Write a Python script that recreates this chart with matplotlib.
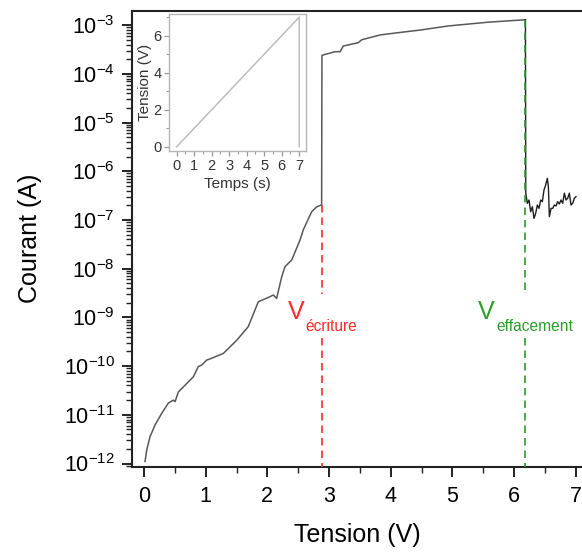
import matplotlib
matplotlib.use("Agg")
import matplotlib.pyplot as plt
from matplotlib.ticker import LogLocator, MultipleLocator, FuncFormatter, NullFormatter
import numpy as np

plt.rcParams['font.family'] = ['Liberation Sans', 'DejaVu Sans']
plt.rcParams['mathtext.fontset'] = 'custom'
plt.rcParams['mathtext.rm'] = 'Liberation Sans'
plt.rcParams['mathtext.it'] = 'Liberation Sans:italic'
plt.rcParams['mathtext.bf'] = 'Liberation Sans:bold'

# ---- data ----
tension = [0.016, 0.044, 0.097, 0.178, 0.287, 0.394, 0.475, 0.503, 0.557, 0.80,
           0.88, 0.935, 1.016, 1.098, 1.286, 1.503, 1.69, 1.853, 2.043, 2.097,
           2.15, 2.233, 2.286, 2.395, 2.53, 2.583, 2.719, 2.80, 2.88, 2.885,
           2.908, 3.097, 3.18, 3.23, 3.475, 3.53, 3.83, 4.12, 4.48, 4.93,
           5.58, 6.18, 6.185,
           6.19, 6.216, 6.243, 6.270, 6.297, 6.324, 6.351, 6.378, 6.405, 6.432,
           6.459, 6.486, 6.513, 6.540, 6.557, 6.573, 6.600, 6.627, 6.654, 6.681,
           6.708, 6.735, 6.762, 6.789, 6.816, 6.843, 6.870, 6.897, 6.924, 6.951,
           6.978, 7.005]
courant = [1.10e-12, 1.91e-12, 3.55e-12, 6.17e-12, 1.07e-11, 1.74e-11, 2.00e-11, 1.86e-11, 2.95e-11, 6.03e-11,
           9.77e-11, 1.05e-10, 1.33e-10, 1.45e-10, 1.82e-10, 3.39e-10, 6.46e-10, 2.09e-9, 2.66e-9, 2.88e-9,
           2.45e-9, 6.84e-9, 1.10e-8, 1.51e-8, 3.89e-8, 6.31e-8, 1.48e-7, 1.86e-7, 2.04e-7, 2.40e-4,
           2.45e-4, 2.85e-4, 2.85e-4, 3.72e-4, 4.37e-4, 5.01e-4, 6.3e-4, 7.0e-4, 7.94e-4, 9.62e-4,
           1.15e-3, 1.29e-3, 1.29e-3,
           3.55e-7, 2.2e-7, 2.57e-7, 1.48e-7, 1.87e-7, 1.08e-7, 1.37e-7, 2.03e-7, 1.73e-7, 2.57e-7,
           2.38e-7, 4.13e-7, 5.22e-7, 7.18e-7, 4.83e-7, 1.17e-7, 1.73e-7, 1.73e-7, 2.03e-7, 1.94e-7,
           2.38e-7, 2.13e-7, 2.57e-7, 2.2e-7, 3.55e-7, 2.57e-7, 2.79e-7, 3.55e-7, 2.03e-7, 2.2e-7,
           2.79e-7, 3.01e-7]
noise_start = 43  # index where the post-erase noisy segment starts

v_ecriture = 2.88
v_effacement = 6.18
i_ecriture = 2.04e-7
i_effacement = 1.29e-3
label_gap = [3.0e-9, 3.8e-10]   # dashed lines interrupted around the labels

inset_temps = [0, 7, 7]
inset_tension = [0, 7, 0]

xticks = [0, 1, 2, 3, 4, 5, 6, 7]
yticks = [1e-12, 1e-11, 1e-10, 1e-9, 1e-8, 1e-7, 1e-6, 1e-5, 1e-4, 1e-3]

# ---- figure ----
fig = plt.figure(figsize=(5.82, 5.53), dpi=100)
W, H = 582, 553
x0_px, x1_px = 131.7, 594.2
y_top_px, y_bot_px = 10.7, 466.7
ax = fig.add_axes([x0_px / W, 1 - y_bot_px / H, (x1_px - x0_px) / W, (y_bot_px - y_top_px) / H])

ax.plot(tension[:noise_start], courant[:noise_start], color='#585858', lw=1.1, zorder=3)
ax.plot(tension[noise_start - 1:], courant[noise_start - 1:], color='#1e1e1e', lw=1.0, zorder=3)

ax.set_yscale('log')
ax.set_xlim(-0.2, 7.3)
ax.set_ylim(8.6e-13, 1.98e-3)

red = '#ff2a2a'
green = '#2a9d2a'
dash = (0, (4.5, 3))
ylo = 8.6e-13
ax.plot([v_ecriture, v_ecriture], [i_ecriture, label_gap[0]], color=red, lw=1.2, linestyle=dash, zorder=4)
ax.plot([v_ecriture, v_ecriture], [label_gap[1], ylo], color=red, lw=1.2, linestyle=dash, zorder=4)
ax.plot([v_effacement, v_effacement], [i_effacement, label_gap[0]], color=green, lw=1.2, linestyle=dash, zorder=4)
ax.plot([v_effacement, v_effacement], [label_gap[1], ylo], color=green, lw=1.2, linestyle=dash, zorder=4)

ax.text(2.34, 9.4e-10, 'V', color=red, fontsize=18, va='baseline', ha='left')
ax.text(2.62, 5.3e-10, 'écriture', color=red, fontsize=11.2, va='baseline', ha='left')
ax.text(5.41, 9.4e-10, 'V', color=green, fontsize=18, va='baseline', ha='left')
ax.text(5.72, 5.3e-10, 'effacement', color=green, fontsize=11.2, va='baseline', ha='left')

for s in ['left', 'bottom', 'top', 'right']:
    ax.spines[s].set_linewidth(1.5)
    ax.spines[s].set_color('#222222')

ax.set_xticks(xticks)
ax.set_xticklabels([str(t) for t in xticks])
ax.xaxis.set_minor_locator(MultipleLocator(0.5))
ax.set_yticks(yticks)
ax.yaxis.set_major_formatter(FuncFormatter(lambda v, p: r'$\mathregular{10^{%d}}$' % int(round(np.log10(v)))))
ax.yaxis.set_minor_locator(LogLocator(base=10, subs=np.arange(2, 10), numticks=30))
ax.yaxis.set_minor_formatter(NullFormatter())
ax.tick_params(which='major', direction='out', length=7, width=1.4, labelsize=15.5, color='#222222', pad=5)
ax.tick_params(which='minor', direction='out', length=4, width=1.0, color='#222222')
ax.tick_params(axis='x', which='major', pad=7)
ax.tick_params(top=False, right=False, which='both')

ax.set_xlabel('Tension (V)', fontsize=18)
ax.set_ylabel('Courant (A)', fontsize=18)
ax.xaxis.set_label_coords(0.487, -0.124)
ax.yaxis.set_label_coords(-0.193, 0.5)

# ---- inset ----
il, ir, it, ib = 169, 305.7, 14, 151
axin = fig.add_axes([il / W, 1 - ib / H, (ir - il) / W, (ib - it) / H])
axin.plot(inset_temps, inset_tension, color='#bdbdbd', lw=1.1)
axin.set_xlim(-0.44, 7.37)
axin.set_ylim(-0.23, 7.17)
axin.set_xticks([0, 1, 2, 3, 4, 5, 6, 7])
axin.set_yticks([0, 2, 4, 6])
axin.xaxis.set_minor_locator(MultipleLocator(0.5))
axin.yaxis.set_minor_locator(MultipleLocator(1))
for s in axin.spines.values():
    s.set_color('#b5b5b5')
    s.set_linewidth(1.0)
axin.tick_params(which='major', direction='out', length=3.5, width=0.9, color='#9a9a9a',
                 labelsize=10.5, labelcolor='#333333', pad=2)
axin.tick_params(which='minor', direction='out', length=2, width=0.8, color='#9a9a9a')
axin.set_xlabel('Temps (s)', fontsize=11, color='#333333', labelpad=3)
axin.set_ylabel('Tension (V)', fontsize=11, color='#333333', labelpad=1)

fig.savefig('out.png', dpi=100)
